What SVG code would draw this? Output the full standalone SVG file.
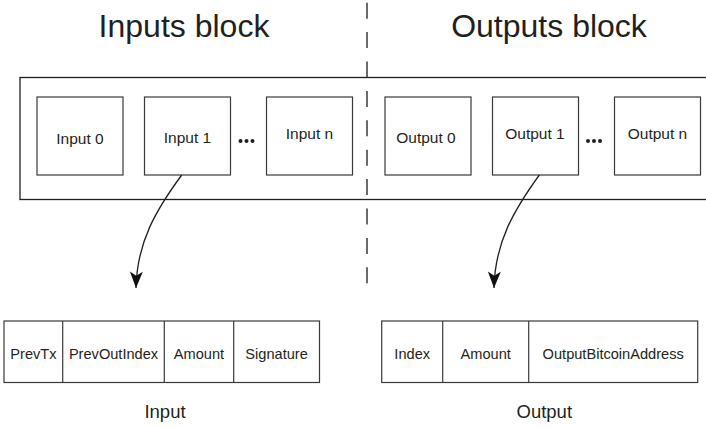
<svg xmlns="http://www.w3.org/2000/svg" width="706" height="427" viewBox="0 0 706 427">
<style>
  .box { fill: #ffffff; stroke: #3a3a3a; stroke-width: 1.2; }
  .frame { fill: none; stroke: #231f20; stroke-width: 1.3; }
  .t { font-family: "Liberation Sans", Arial, sans-serif; fill: #231f20; text-anchor: middle; }
  .title { font-size: 32px; }
  .node { font-size: 15.5px; }
  .cell { font-size: 14.6px; }
  .lab { font-size: 18.5px; }
  .dash { stroke: #6a6a6a; stroke-width: 2; stroke-dasharray: 16 13.4; fill: none; }
  .conn { fill: none; stroke: #231f20; stroke-width: 1.3; }
  .dot { fill: #231f20; }
</style>
<defs>
  <marker id="arrow" markerUnits="userSpaceOnUse" markerWidth="20" markerHeight="20" viewBox="-15 -8 17 16" refX="0" refY="0" orient="auto">
    <path d="M0,0 L-14,-5.5 L-10.5,0 L-14,5.5 Z" fill="#111"/>
  </marker>
</defs>
<rect width="706" height="427" fill="#ffffff"/>

<g id="titles">
  <text class="t title" x="184" y="37">Inputs block</text>
  <text class="t title" x="549" y="37">Outputs block</text>
</g>

<line id="divider" class="dash" x1="367" y1="2.7" x2="367" y2="284"/>

<rect id="tx-frame" class="frame" x="20" y="77.5" width="700" height="122"/>

<g id="input0">
  <rect class="box" x="37" y="97" width="86" height="78"/>
  <text class="t node" x="80" y="144">Input 0</text>
</g>
<g id="input1">
  <rect class="box" x="144.5" y="97" width="86" height="78"/>
  <text class="t node" x="187.5" y="143">Input 1</text>
</g>
<g id="input-dots">
  <circle class="dot" cx="240.5" cy="141" r="2"/>
  <circle class="dot" cx="246.5" cy="141" r="2"/>
  <circle class="dot" cx="252.5" cy="141" r="2"/>
</g>
<g id="inputn">
  <rect class="box" x="266.5" y="97" width="86" height="78"/>
  <text class="t node" x="309.5" y="138.5">Input n</text>
</g>

<g id="output0">
  <rect class="box" x="385" y="97" width="86" height="78"/>
  <text class="t node" x="426" y="143">Output 0</text>
</g>
<g id="output1">
  <rect class="box" x="492.5" y="97" width="86" height="78"/>
  <text class="t node" x="535" y="138.5">Output 1</text>
</g>
<g id="output-dots">
  <circle class="dot" cx="588" cy="141" r="2"/>
  <circle class="dot" cx="594" cy="141" r="2"/>
  <circle class="dot" cx="600" cy="141" r="2"/>
</g>
<g id="outputn">
  <rect class="box" x="614.5" y="97" width="86" height="78"/>
  <text class="t node" x="657.5" y="138.5">Output n</text>
</g>

<g id="connectors">
  <path class="conn" d="M181.7,175 C156,210 137,242 136,288" marker-end="url(#arrow)"/>
  <path class="conn" d="M539.3,175 C514,210 495,242 494,288" marker-end="url(#arrow)"/>
</g>

<g id="input-record">
  <rect class="box" x="4" y="321" width="315.5" height="61.5"/>
  <line class="box" x1="62.7" y1="321" x2="62.7" y2="382.5"/>
  <line class="box" x1="164.3" y1="321" x2="164.3" y2="382.5"/>
  <line class="box" x1="233.7" y1="321" x2="233.7" y2="382.5"/>
  <text class="t cell" x="33.4" y="359">PrevTx</text>
  <text class="t cell" x="113.5" y="359">PrevOutIndex</text>
  <text class="t cell" x="199" y="359">Amount</text>
  <text class="t cell" x="276.6" y="359">Signature</text>
  <text class="t lab" x="165" y="418">Input</text>
</g>

<g id="output-record">
  <rect class="box" x="381.7" y="321" width="316" height="61.5"/>
  <line class="box" x1="442.7" y1="321" x2="442.7" y2="382.5"/>
  <line class="box" x1="528.7" y1="321" x2="528.7" y2="382.5"/>
  <text class="t cell" x="412.2" y="359">Index</text>
  <text class="t cell" x="485.7" y="359">Amount</text>
  <text class="t cell" x="613.2" y="359">OutputBitcoinAddress</text>
  <text class="t lab" x="544.3" y="418">Output</text>
</g>
</svg>
